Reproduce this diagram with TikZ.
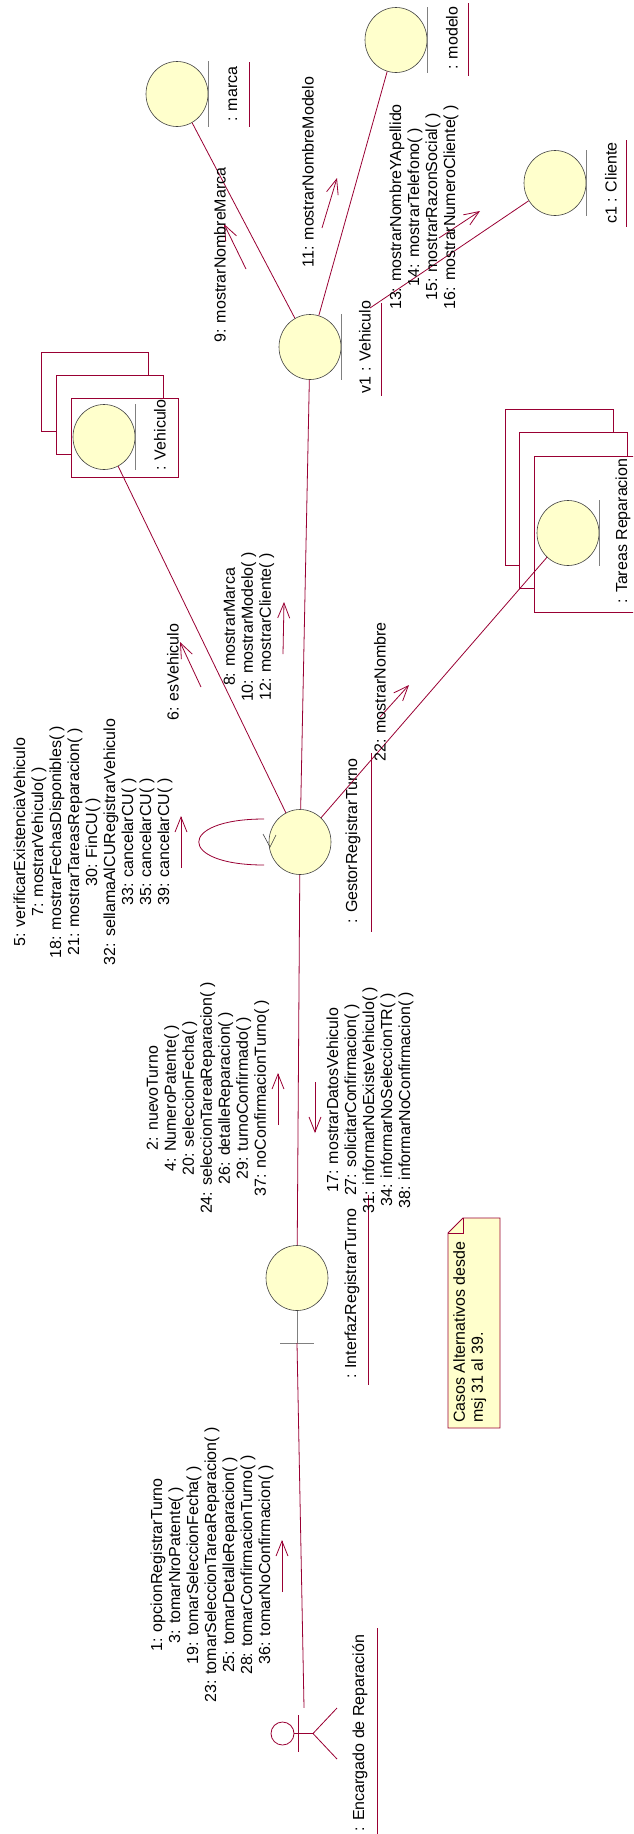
\documentclass[tikz,border=0pt]{standalone}
\usepackage{fontspec}
\setmainfont{Liberation Sans}
\usetikzlibrary{arrows.meta,calc,shapes.geometric}
\definecolor{roselink}{RGB}{153,0,51}
\definecolor{rosefill}{RGB}{255,255,204}
\definecolor{rosebar}{RGB}{128,128,128}
\definecolor{roseedge}{RGB}{64,64,64}
\tikzset{
  objicon/.style={ellipse, draw=roseedge, fill=rosefill, line width=0.6pt,
    minimum width=62pt, minimum height=65pt, inner sep=0pt},
  objbar/.style={draw=rosebar, line width=0.9pt},
  objname/.style={rotate=90, inner sep=0pt, font=\fontsize{16}{18}\selectfont},
  msgtext/.style={rotate=90, inner sep=0pt, align=center, font=\fontsize{16}{18}\selectfont},
  uline/.style={draw=roselink, line width=0.7pt},
  link/.style={draw=roselink, line width=0.8pt},
  msg/.style={draw=roselink, line width=0.8pt, -{Straight Barb[length=15pt,width=12pt]}},
  multibox/.style={rectangle, draw=roselink, fill=white, line width=0.8pt, inner sep=0pt},
  notebox/.style={draw=roselink, fill=rosefill, line width=0.8pt},
}
\begin{document}
\begin{tikzpicture}[x=1pt,y=-1pt]
  \useasboundingbox (0,0) rectangle (633,1834);
  \clip (0,0) rectangle (633,1834); % the last box runs off the page

  % multi objects, back boxes first
  \coordinate (vehC) at (124.5,437.5);
  \foreach \k in {2,1,0}
    \node[multibox, minimum width=107pt, minimum height=79pt] (veh\k) at ($(vehC)+(-15*\k,-23*\k)$) {};
  \coordinate (tarC) at (588,534);
  \foreach \k in {2,1,0}
    \node[multibox, minimum width=108pt, minimum height=156pt] (tar\k) at ($(tarC)+(-14.5*\k,-23.5*\k)$) {};

  % object icons
  \node[objicon] (marca)  at (177,94)   {};
  \node[objicon] (modelo) at (396,40)   {};
  \node[objicon] (cli)    at (555,183)  {};
  \node[objicon] (v1)     at (310,347)  {};
  \node[objicon] (vehE)   at (104,437)  {};
  \node[objicon] (tarE)   at (568,533)  {};
  \node[objicon] (gestor) at (300,842)  {};
  \node[objicon] (bnd)    at (297,1278) {};
  \foreach \o in {marca,modelo,cli,v1,vehE,tarE}
    \draw[objbar] (\o.north -| \o.east) -- (\o.south -| \o.east);% entity bar
  \draw[draw=roseedge, line width=0.6pt] ($(gestor)+(-37,-8)$) -- ($(gestor)+(-30,5)$)
      -- ($(gestor)+(-24,-7)$);% control arrow
  \coordinate (bndfoot) at (297,1343);
  \draw[objbar] (bnd.south) -- (bndfoot);
  \draw[objbar] ($(bndfoot)+(-17,0)$) -- ($(bndfoot)+(17,0)$);

  % actor
  \node[minimum width=65pt, minimum height=51pt, inner sep=0pt] (actor) at (304.5,1733.5) {};
  \draw[link] ($(actor)+(-22,0)$) circle (11.5pt);
  \draw[link] ($(actor)+(-10.5,0)$) -- ($(actor)+(8.5,0)$);
  \draw[link] ($(actor)+(-6.5,-18.5)$) -- ($(actor)+(-6.5,18.5)$);
  \draw[link] ($(actor)+(32.5,-25.5)$) -- ($(actor)+(8.5,0)$) -- ($(actor)+(32.5,25.5)$);

  % object names
  \node[objname] (nmarca)  at (233,94)    {: marca};
  \node[objname] (nmodelo) at (452,38)    {: modelo};
  \node[objname] (ncli)    at (611,183)   {c1 : Cliente};
  \node[objname] (nv1)     at (365,347)   {v1 : Vehiculo};
  \node[objname] (nveh)    at (160,435)   {: Vehiculo};
  \node[objname] (ntar)    at (623,531)   {: Tareas Reparacion};
  \node[objname] (ngestor) at (353,841)   {: GestorRegistrarTurno};
  \node[objname] (nbnd)    at (352,1294)  {: InterfazRegistrarTurno};
  \node[objname] (nactor)  at (360,1733)  {: Encargado de Reparación};
  \draw[uline] (249,62)   -- (249,127);
  \draw[uline] (468,3)    -- (468,76);
  \draw[uline] (626,140)  -- (626,227);
  \draw[uline] (381,303)  -- (381,396);
  \draw[uline] (371,753)  -- (371,932);
  \draw[uline] (368,1195) -- (368,1385);
  \draw[uline] (377,1628) -- (377,1834);

  % links
  \coordinate (v1cli) at (370,308);
  \draw[link] (v1) -- (marca);
  \draw[link] (v1) -- (modelo);
  \draw[link] (v1cli) -- (cli);
  \draw[link] (v1) -- (gestor);
  \draw[link] (vehE) -- (gestor);
  \draw[link] (gestor) -- (tarE);
  \draw[link] (gestor) -- (bnd);
  \draw[link] (bndfoot) -- (actor);
  \coordinate (loopA) at ($(gestor)+(-36,-23)$);
  \coordinate (loopB) at ($(gestor)+(-36,23)$);
  \draw[link] (loopA) .. controls ($(loopA)+(-87,0)$) and ($(loopB)+(-87,0)$) .. (loopB);% self link

  % message arrows
  \coordinate (m9a)  at (246,269);  \coordinate (m9b)  at (224,224);
  \coordinate (m11a) at (322,228);  \coordinate (m11b) at (337,178);
  \coordinate (m13a) at (439,238);  \coordinate (m13b) at (480,211);
  \coordinate (m6a)  at (201,687);  \coordinate (m6b)  at (180,642);
  \coordinate (m8a)  at (283,654);  \coordinate (m8b)  at (284,602);
  \coordinate (m22a) at (380,717);  \coordinate (m22b) at (409,685);
  \coordinate (m5a)  at (181,868);  \coordinate (m5b)  at (181,816);
  \coordinate (m2a)  at (278,1125); \coordinate (m2b)  at (278,1073);
  \coordinate (m17a) at (315,1082); \coordinate (m17b) at (315,1133);
  \coordinate (m1a)  at (282,1592); \coordinate (m1b)  at (282,1540);
  \foreach \m in {m9,m11,m13,m6,m8,m22,m5,m2,m17,m1}
    \draw[msg] (\m a) -- (\m b);

  % message texts
  \node[msgtext] (t9)  at (220,255) {9: mostrarNombreMarca};
  \node[msgtext] (t11) at (308,172) {11: mostrarNombreModelo};
  \node[msgtext] (t13) at (424,207) {13: mostrarNombreYApellido\\14: mostrarTelefono( )\\
      15: mostrarRazonSocial( )\\16: mostrarNumeroCliente( )};
  \node[msgtext] (t6)  at (173,672) {6: esVehiculo};
  \node[msgtext] (t8)  at (249,627) {8: mostrarMarca\\10: mostrarModelo( )\\12: mostrarCliente( )};
  \node[msgtext] (t22) at (380,692) {22: mostrarNombre};
  \node[msgtext] (t5)  at (93,842)  {5: verificarExistenciaVehiculo\\7: mostrarVehiculo( )\\
      18: mostrarFechasDisponibles( )\\21: mostrarTareasReparacion( )\\30: FinCU( )\\
      32: sellamaAlCURegistrarVehiculo\\33: cancelarCU( )\\35: cancelarCU( )\\39: cancelarCU( )};
  \node[msgtext] (t2)  at (208,1098) {2: nuevoTurno\\4: NumeroPatente( )\\20: seleccionFecha( )\\
      24: seleccionTareaReparacion( )\\26: detalleReparacion( )\\29: turnoConfirmado( )\\
      37: noConfirmacionTurno( )};
  \node[msgtext] (t17) at (370,1100) {17: mostrarDatosVehiculo\\27: solicitarConfirmacion( )\\
      31: informarNoExisteVehiculo( )\\34: informarNoSeleccionTR( )\\38: informarNoConfirmacion( )};
  \node[msgtext] (t1)  at (212,1565) {1: opcionRegistrarTurno\\3: tomarNroPatente( )\\
      19: tomarSeleccionFecha( )\\23: tomarSeleccionTareaReparacion( )\\
      25: tomarDetalleReparacion( )\\28: tomarConfirmacionTurno( )\\36: tomarNoConfirmacion( )};

  % note
  \draw[notebox] (448,1233) -- (463,1218) -- (500,1218) -- (500,1428) -- (448,1428) -- cycle;
  \draw[notebox, fill=none] (448,1233) -- (463,1233) -- (463,1218);
  \node[msgtext, align=left, anchor=north west] (note) at (453,1423)
      {Casos Alternativos desde\\msj 31 al 39.};
\end{tikzpicture}
\end{document}
